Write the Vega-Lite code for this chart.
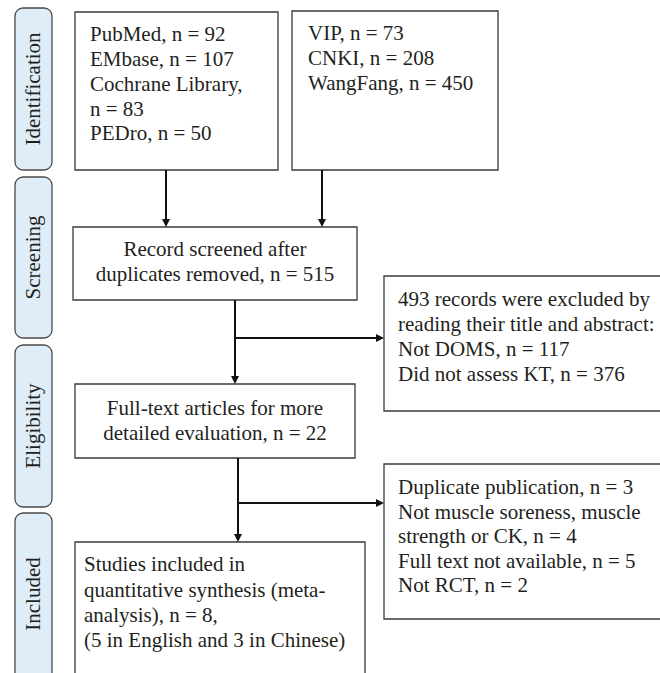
{
  "$schema": "https://vega.github.io/schema/vega-lite/v6.json",
  "width": 660,
  "height": 673,
  "padding": 0,
  "autosize": {"type": "none"},
  "background": "white",
  "config": {"view": {"stroke": null}},
  "datasets": {
    "pills": [
      {"stage": "Identification", "x1": 15, "x2": 52, "y1": 8, "y2": 170, "xm": 34, "ym": 89},
      {"stage": "Screening", "x1": 15, "x2": 52, "y1": 177, "y2": 338, "xm": 34, "ym": 257.5},
      {"stage": "Eligibility", "x1": 15, "x2": 52, "y1": 345, "y2": 507, "xm": 34, "ym": 426},
      {"stage": "Included", "x1": 15, "x2": 52, "y1": 513, "y2": 700, "xm": 34, "ym": 594}
    ],
    "boxes": [
      {"id": "db_en", "x1": 75, "x2": 278, "y1": 12, "y2": 170},
      {"id": "db_cn", "x1": 292, "x2": 498, "y1": 11, "y2": 170},
      {"id": "screened", "x1": 73, "x2": 357, "y1": 227, "y2": 300},
      {"id": "excluded1", "x1": 384, "x2": 700, "y1": 276, "y2": 411},
      {"id": "fulltext", "x1": 75, "x2": 355, "y1": 384, "y2": 458},
      {"id": "excluded2", "x1": 384, "x2": 700, "y1": 464, "y2": 619},
      {"id": "included", "x1": 75, "x2": 365, "y1": 542, "y2": 720}
    ],
    "links": [
      {"x1": 166, "y1": 170, "x2": 166, "y2": 222},
      {"x1": 322, "y1": 170, "x2": 322, "y2": 222},
      {"x1": 235, "y1": 300, "x2": 235, "y2": 379},
      {"x1": 235, "y1": 338, "x2": 378, "y2": 338},
      {"x1": 238, "y1": 458, "x2": 238, "y2": 537},
      {"x1": 238, "y1": 503, "x2": 378, "y2": 503}
    ],
    "heads": [
      {"x": 166, "y": 227, "dir": "down"},
      {"x": 322, "y": 227, "dir": "down"},
      {"x": 235, "y": 384, "dir": "down"},
      {"x": 384, "y": 338, "dir": "right"},
      {"x": 238, "y": 542, "dir": "down"},
      {"x": 384, "y": 503, "dir": "right"}
    ],
    "labels": [
      {"text": "PubMed, n = 92", "x": 90, "y": 41, "align": "left"},
      {"text": "EMbase, n = 107", "x": 90, "y": 66, "align": "left"},
      {"text": "Cochrane Library,", "x": 90, "y": 91, "align": "left"},
      {"text": "n = 83", "x": 90, "y": 115.5, "align": "left"},
      {"text": "PEDro, n = 50", "x": 90, "y": 140, "align": "left"},
      {"text": "VIP, n = 73", "x": 308, "y": 40, "align": "left"},
      {"text": "CNKI, n = 208", "x": 308, "y": 65, "align": "left"},
      {"text": "WangFang, n = 450", "x": 308, "y": 89.5, "align": "left"},
      {"text": "Record screened after", "x": 215, "y": 256, "align": "center"},
      {"text": "duplicates removed, n = 515", "x": 215, "y": 281, "align": "center"},
      {"text": "493 records were excluded by", "x": 398, "y": 306, "align": "left"},
      {"text": "reading their title and abstract:", "x": 398, "y": 331, "align": "left"},
      {"text": "Not DOMS, n = 117", "x": 398, "y": 356, "align": "left"},
      {"text": "Did not assess KT, n = 376", "x": 398, "y": 380.5, "align": "left"},
      {"text": "Full-text articles for more", "x": 215, "y": 415, "align": "center"},
      {"text": "detailed evaluation, n = 22", "x": 215, "y": 440, "align": "center"},
      {"text": "Duplicate publication, n = 3", "x": 398, "y": 494, "align": "left"},
      {"text": "Not muscle soreness, muscle", "x": 398, "y": 518.5, "align": "left"},
      {"text": "strength or CK, n = 4", "x": 398, "y": 543, "align": "left"},
      {"text": "Full text not available, n = 5", "x": 398, "y": 567.5, "align": "left"},
      {"text": "Not RCT, n = 2", "x": 398, "y": 592, "align": "left"},
      {"text": "Studies included in", "x": 84, "y": 571, "align": "left"},
      {"text": "quantitative synthesis (meta-", "x": 84, "y": 596.5, "align": "left"},
      {"text": "analysis), n = 8,", "x": 84, "y": 622, "align": "left"},
      {"text": "(5 in English and 3 in Chinese)", "x": 84, "y": 647, "align": "left"}
    ]
  },
  "layer": [
    {
      "data": {"name": "pills"},
      "mark": {"type": "rect", "cornerRadius": 8, "fill": "#deedf8", "stroke": "#4a4a4a", "strokeWidth": 1.3},
      "encoding": {
        "x": {"field": "x1", "type": "quantitative", "scale": {"domain": [0, 660], "nice": false, "zero": false}, "axis": null},
        "x2": {"field": "x2"},
        "y": {"field": "y1", "type": "quantitative", "scale": {"domain": [0, 673], "nice": false, "zero": false, "reverse": true}, "axis": null},
        "y2": {"field": "y2"}
      }
    },
    {
      "data": {"name": "pills"},
      "mark": {"type": "text", "angle": 270, "align": "center", "baseline": "middle", "font": "Liberation Serif", "fontSize": 21, "fill": "#231f20"},
      "encoding": {
        "x": {"field": "xm", "type": "quantitative", "axis": null},
        "y": {"field": "ym", "type": "quantitative", "axis": null},
        "text": {"field": "stage"}
      }
    },
    {
      "data": {"name": "boxes"},
      "mark": {"type": "rect", "fill": "white", "stroke": "#3a3a3a", "strokeWidth": 1.3},
      "encoding": {
        "x": {"field": "x1", "type": "quantitative", "axis": null},
        "x2": {"field": "x2"},
        "y": {"field": "y1", "type": "quantitative", "axis": null},
        "y2": {"field": "y2"}
      }
    },
    {
      "data": {"name": "links"},
      "mark": {"type": "rule", "color": "#111111", "strokeWidth": 2},
      "encoding": {
        "x": {"field": "x1", "type": "quantitative", "axis": null},
        "x2": {"field": "x2"},
        "y": {"field": "y1", "type": "quantitative", "axis": null},
        "y2": {"field": "y2"}
      }
    },
    {
      "data": {"name": "heads"},
      "mark": {"type": "point", "filled": true, "opacity": 1, "color": "#111111", "size": 256, "strokeWidth": 0},
      "encoding": {
        "x": {"field": "x", "type": "quantitative", "axis": null},
        "y": {"field": "y", "type": "quantitative", "axis": null},
        "shape": {"field": "dir", "type": "nominal", "legend": null, "scale": {"domain": ["down", "right"], "range": ["M -0.5 -1 L 0.5 -1 L 0 0 Z", "M -1 -0.5 L -1 0.5 L 0 0 Z"]}}
      }
    },
    {
      "data": {"name": "labels"},
      "transform": [{"filter": "datum.align === 'left'"}],
      "mark": {"type": "text", "align": "left", "baseline": "alphabetic", "font": "Liberation Serif", "fontSize": 21, "fill": "#231f20"},
      "encoding": {
        "x": {"field": "x", "type": "quantitative", "axis": null},
        "y": {"field": "y", "type": "quantitative", "axis": null},
        "text": {"field": "text"}
      }
    },
    {
      "data": {"name": "labels"},
      "transform": [{"filter": "datum.align === 'center'"}],
      "mark": {"type": "text", "align": "center", "baseline": "alphabetic", "font": "Liberation Serif", "fontSize": 21, "fill": "#231f20"},
      "encoding": {
        "x": {"field": "x", "type": "quantitative", "axis": null},
        "y": {"field": "y", "type": "quantitative", "axis": null},
        "text": {"field": "text"}
      }
    }
  ]
}
